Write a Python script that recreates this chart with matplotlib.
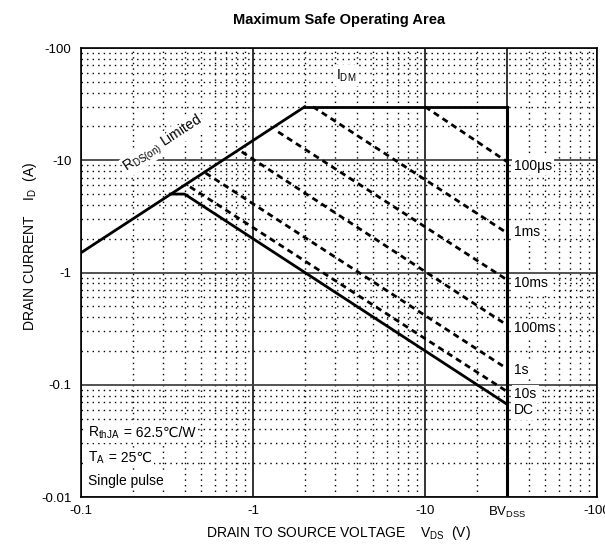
import numpy as np
import matplotlib.pyplot as plt
from matplotlib.ticker import LogLocator, NullFormatter

plt.rcParams['font.family'] = ['Liberation Sans', 'DejaVu Sans']
plt.rcParams['mathtext.fontset'] = 'custom'
plt.rcParams['mathtext.rm'] = 'Liberation Sans'
plt.rcParams['mathtext.default'] = 'rm'

# axis ticks
x_ticks = [0.1, 1, 10, 30, 100]
x_labels = ['-0.1', '-1', '-10', r'BV$_{DSS}$', '-100']
y_ticks = [0.01, 0.1, 1, 10, 100]
y_labels = ['-0.01', '-0.1', '-1', '-10', '-100']

# limit lines (V, A)
rds_v = [0.1, 2.0]
rds_i = [1.5, 30]
idm_v = [2.0, 30]
idm_i = [30, 30]
bv_v = [30, 30]
bv_i = [30, 0.01]
dc_v = [0.33, 0.40, 30]
dc_i = [5.0, 5.0, 0.067]

# pulse lines: start point and current at BV
pulse_names = ['100\u00b5s', '1ms', '10ms', '100ms', '1s', '10s']
pulse_v0 = [10.0, 2.23, 1.40, 0.86, 0.53, 0.43]
pulse_i0 = [30.0, 30.0, 17.9, 11.9, 7.7, 5.8]
pulse_i1 = [9.7, 2.25, 0.86, 0.34, 0.139, 0.087]
label_y = [8.9, 2.3, 0.81, 0.32, 0.136, 0.083, 0.059]

# condition notes: (symbol, subscript, rest)
note_sym = ['R', 'T', 'Single pulse']
note_sub = ['thJA', 'A', '']
note_rest = [' = 62.5\u2103/W', ' = 25\u2103', '']
note_y = [0.0344, 0.0206, 0.01285]

fig = plt.figure(figsize=(6.05, 5.47), dpi=100)
ax = fig.add_axes([0.1339, 0.0914, 0.8529, 0.8208])
ax.set_xscale('log')
ax.set_yscale('log')
ax.set_xlim(0.1, 100)
ax.set_ylim(0.01, 100)

ax.set_xticks(x_ticks, x_labels)
ax.set_yticks(y_ticks, y_labels)
ax.xaxis.set_minor_locator(LogLocator(base=10, subs=np.arange(2, 10), numticks=20))
ax.yaxis.set_minor_locator(LogLocator(base=10, subs=np.arange(2, 10), numticks=20))
ax.xaxis.set_minor_formatter(NullFormatter())
ax.yaxis.set_minor_formatter(NullFormatter())
ax.xaxis.grid(True, which='major', color='#111111', lw=1.2, ls='-')
ax.yaxis.grid(True, which='major', color='#444444', lw=1.3, ls='-')
ax.grid(True, which='minor', color='black', lw=1.0, ls=(0, (1, 3)))
ax.set_axisbelow(True)
ax.tick_params(which='both', length=0, labelsize=9.5)
ax.tick_params(axis='x', pad=6)
ax.tick_params(axis='y', pad=7)

for sp in ax.spines.values():
    sp.set_linewidth(1.2)

# limit lines
ax.plot(rds_v, rds_i, color='black', lw=2)
ax.plot(idm_v, idm_i, color='black', lw=2)
ax.plot(bv_v, bv_i, color='black', lw=2.2)
ax.plot(dc_v, dc_i, color='black', lw=2)
for v0, i0, i1 in zip(pulse_v0, pulse_i0, pulse_i1):
    ax.plot([v0, bv_v[0]], [i0, i1], color='black', lw=2, ls=(0, (2.2, 1.6)))

box = dict(facecolor='white', edgecolor='none', pad=1.5)
for name, y in zip(pulse_names + ['DC'], label_y):
    ax.text(33, y, name, ha='left', va='center', fontsize=10, bbox=box)

ax.text(3.5, 57, r'I$_{DM}$', ha='center', va='center', fontsize=10, bbox=box)
ax.text(0.30, 14, r'R$_{DS(on)}$ Limited', ha='center', va='center', fontsize=10,
        rotation=33, rotation_mode='anchor',
        bbox=dict(facecolor='white', edgecolor='none', pad=0.5))

# notes: mathtext only for the subscript, plain text for the degree sign
for sym, sub, rest, y in zip(note_sym, note_sub, note_rest, note_y):
    head = sym + ('$_{%s}$' % sub if sub else '')
    t = ax.text(0.11, y, head, ha='left', va='baseline', fontsize=10,
                bbox=box, zorder=4)
    if rest:
        ax.annotate(rest, xy=(1, y), xycoords=(t, 'data'), ha='left',
                    va='baseline', fontsize=10, bbox=box, zorder=3)

fig.text(0.56, 0.963, 'Maximum Safe Operating Area', ha='center', va='center',
         fontsize=10.5, fontweight='bold')
fig.text(0.56, 0.025, r'DRAIN TO SOURCE VOLTAGE    V$_{DS}$  (V)', ha='center',
         va='center', fontsize=10)
fig.text(0.05, 0.55, r'DRAIN CURRENT    I$_D$  (A)', ha='center', va='center',
         fontsize=10, rotation=90)

fig.savefig('out.png', dpi=100)
